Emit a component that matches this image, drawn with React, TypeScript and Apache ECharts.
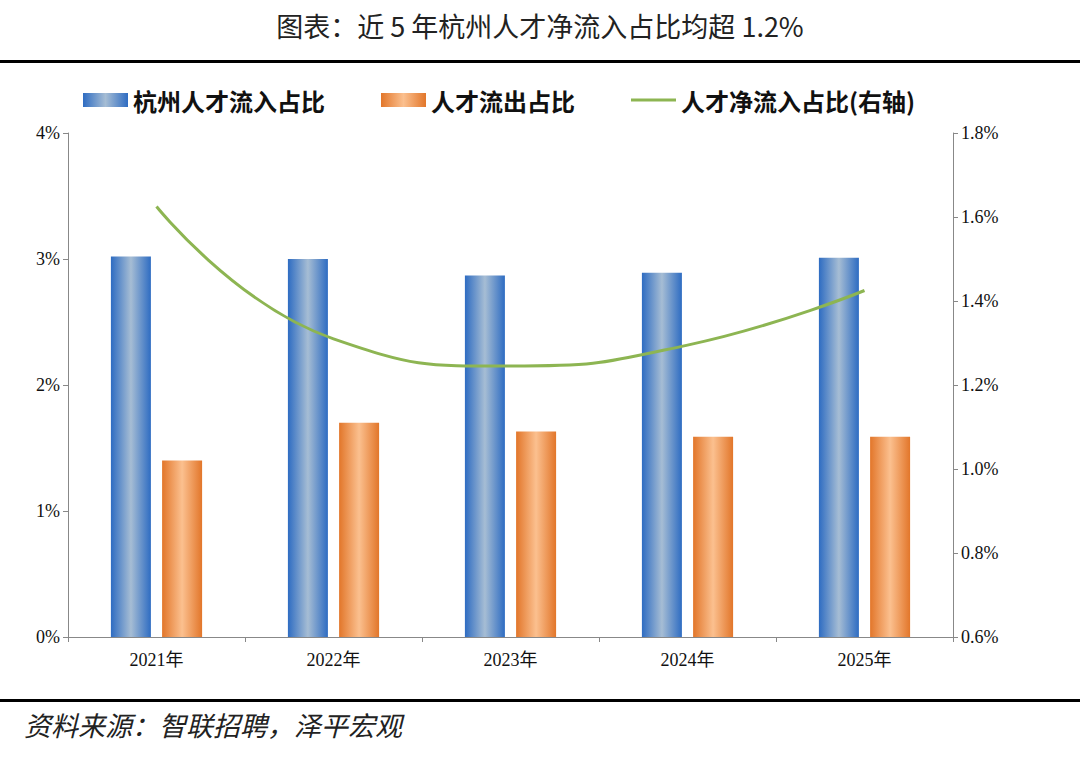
import { useEffect, useRef } from 'react';
import * as echarts from 'echarts';

const years = ['2021年', '2022年', '2023年', '2024年', '2025年'];
const inflow = [3.02, 3.0, 2.87, 2.89, 3.01];
const outflow = [1.4, 1.7, 1.63, 1.59, 1.59];
const netInflow = [1.625, 1.31, 1.245, 1.295, 1.425];

const SERIF = '"Liberation Serif", "Times New Roman", "Noto Sans CJK SC", serif';
const CJK = '"Noto Sans CJK SC", sans-serif';

const barGradient = (edge: string, mid: string) =>
    new echarts.graphic.LinearGradient(0, 0, 1, 0, [
        { offset: 0, color: edge },
        { offset: 0.5, color: mid },
        { offset: 1, color: edge },
    ]);

const App = () => {
    const chartRef = useRef<HTMLDivElement>(null);

    useEffect(() => {
        document.body.style.margin = '0';
        if (!chartRef.current) return;
        const chart = echarts.init(chartRef.current, undefined, { renderer: 'svg' });

        const option: echarts.EChartsOption = {
            animation: false,
            backgroundColor: '#fff',
            textStyle: { fontFamily: SERIF },
            graphic: [
                {
                    type: 'text',
                    left: 'center',
                    top: 12,
                    style: { text: '图表：近 5 年杭州人才净流入占比均超 1.2%', fontSize: 27, fontFamily: CJK, fill: '#222' },
                },
                { type: 'rect', shape: { x: 0, y: 60, width: 1080, height: 3 }, style: { fill: '#000' } },
                { type: 'rect', shape: { x: 0, y: 699, width: 1080, height: 3 }, style: { fill: '#000' } },
                {
                    type: 'text',
                    left: 24,
                    top: 711,
                    style: { text: '资料来源：智联招聘，泽平宏观', fontSize: 27, fontFamily: CJK, fontStyle: 'italic', fill: '#222' },
                },
            ],
            legend: {
                left: 78,
                top: 83,
                itemWidth: 45,
                itemHeight: 14,
                itemGap: 56,
                textStyle: { fontSize: 24, fontWeight: 'bold', fontFamily: CJK, color: '#111' },
                data: [
                    { name: '杭州人才流入占比', icon: 'rect' },
                    { name: '人才流出占比', icon: 'rect' },
                    { name: '人才净流入占比(右轴)', icon: 'path://M0,0 L45,0 L45,3 L0,3 Z' },
                ],
            },
            grid: { left: 68, right: 127, top: 133, bottom: 121 },
            xAxis: {
                type: 'category',
                data: years,
                axisLine: { lineStyle: { color: '#888' } },
                axisTick: { show: true, lineStyle: { color: '#888' } },
                axisLabel: { fontSize: 18, color: '#111', fontFamily: SERIF, margin: 14 },
            },
            yAxis: [
                {
                    type: 'value',
                    min: 0,
                    max: 4,
                    interval: 1,
                    splitLine: { show: false },
                    axisLine: { show: true, lineStyle: { color: '#888' } },
                    axisTick: { show: true, lineStyle: { color: '#888' } },
                    axisLabel: { formatter: '{value}%', fontSize: 18, color: '#111', fontFamily: SERIF },
                },
                {
                    type: 'value',
                    min: 0.6,
                    max: 1.8,
                    interval: 0.2,
                    splitLine: { show: false },
                    axisLine: { show: true, lineStyle: { color: '#888' } },
                    axisTick: { show: true, lineStyle: { color: '#888' } },
                    axisLabel: {
                        formatter: (v: number) => v.toFixed(1) + '%',
                        fontSize: 18,
                        color: '#111',
                        fontFamily: SERIF,
                    },
                },
            ],
            series: [
                {
                    name: '杭州人才流入占比',
                    type: 'bar',
                    data: inflow,
                    barWidth: 40,
                    barGap: '28%',
                    itemStyle: { color: barGradient('#2e6cc2', '#a6bdd4') },
                },
                {
                    name: '人才流出占比',
                    type: 'bar',
                    data: outflow,
                    barWidth: 40,
                    itemStyle: { color: barGradient('#e2762a', '#fbc08f') },
                },
                {
                    name: '人才净流入占比(右轴)',
                    type: 'line',
                    yAxisIndex: 1,
                    data: netInflow,
                    smooth: true,
                    symbol: 'none',
                    lineStyle: { color: '#8db552', width: 3 },
                    itemStyle: { color: '#8db552' },
                },
            ],
        };

        chart.setOption(option);
        return () => chart.dispose();
    }, []);

    return <div ref={chartRef} style={{ width: 1080, height: 758 }} />;
};

export default App;
